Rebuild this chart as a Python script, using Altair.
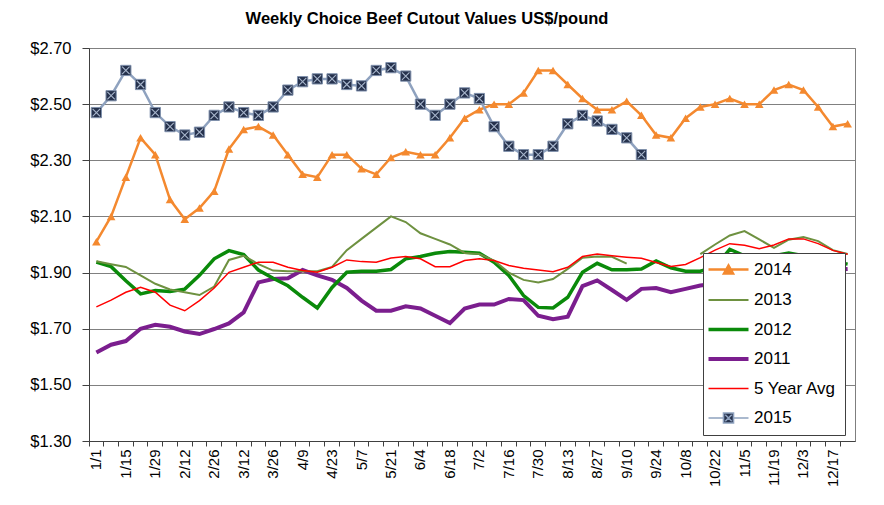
import altair as alt
import pandas as pd

weeks = ["1/1","1/8","1/15","1/22","1/29","2/5","2/12","2/19","2/26","3/5","3/12","3/19","3/26",
         "4/2","4/9","4/16","4/23","4/30","5/7","5/14","5/21","5/28","6/4","6/11","6/18","6/25",
         "7/2","7/9","7/16","7/23","7/30","8/6","8/13","8/20","8/27","9/3","9/10","9/17","9/24",
         "10/1","10/8","10/15","10/22","10/29","11/5","11/12","11/19","11/26","12/3","12/10","12/17","12/24"]
label_weeks = weeks[::2]

s2014 = [2.01,2.10,2.24,2.38,2.32,2.16,2.09,2.13,2.19,2.34,
         2.41,2.42,2.39,2.32,2.25,2.24,2.32,2.32,2.27,2.25,
         2.31,2.33,2.32,2.32,2.38,2.45,2.48,2.50,2.50,2.54,
         2.62,2.62,2.57,2.52,2.48,2.48,2.51,2.46,2.39,2.38,
         2.45,2.49,2.50,2.52,2.50,2.50,2.55,2.57,2.55,2.49,
         2.42,2.43]
s2013 = [1.94,1.93,1.92,1.89,1.86,1.84,1.83,1.82,1.85,1.945,
         1.96,1.93,1.907,1.905,1.905,1.905,1.92,1.98,2.02,2.06,
         2.10,2.08,2.04,2.02,2.00,1.97,1.966,1.943,1.90,1.874,
         1.865,1.877,1.913,1.953,1.957,1.956,1.932,None,None,None,
         None,1.966,2.00,2.032,2.048,2.018,1.988,2.017,2.027,2.012,
         1.98,1.966]
s2012 = [1.937,1.921,1.871,1.824,1.836,1.833,1.841,1.89,1.949,1.978,
         1.964,1.909,1.88,1.853,1.812,1.774,1.847,1.901,1.905,1.905,
         1.911,1.949,1.957,1.969,1.975,1.972,1.969,1.937,1.89,1.818,
         1.776,1.774,1.812,1.901,1.933,1.91,1.91,1.913,1.941,1.917,
         1.905,1.905,1.92,1.983,1.96,1.95,1.96,1.97,1.96,1.95,
         1.94,1.93]
s2011 = [1.615,1.643,1.656,1.70,1.714,1.707,1.69,1.681,1.699,1.719,
         1.758,1.865,1.877,1.88,1.909,1.89,1.874,1.845,1.80,1.764,
         1.764,1.78,1.772,1.746,1.72,1.772,1.786,1.786,1.806,1.802,
         1.746,1.734,1.743,1.852,1.872,1.838,1.803,1.842,1.845,1.83,
         1.842,1.854,1.86,1.87,1.88,1.89,1.90,1.90,1.91,1.91,
         1.91,1.913]
s5yr = [1.778,1.802,1.83,1.848,1.83,1.784,1.764,1.80,1.845,1.901,
        1.919,1.937,1.937,1.919,1.907,1.901,1.919,1.945,1.939,1.937,
        1.952,1.957,1.949,1.921,1.921,1.943,1.949,1.943,1.925,1.915,
        1.909,1.903,1.919,1.957,1.966,1.96,1.955,1.951,1.936,1.922,
        1.929,1.953,1.98,2.003,1.997,1.985,1.998,2.02,2.02,2.003,
        1.979,1.965]
s2015 = [2.47,2.53,2.62,2.57,2.47,2.42,2.39,2.40,2.46,2.49,
         2.47,2.46,2.49,2.55,2.58,2.59,2.59,2.57,2.565,2.62,
         2.63,2.60,2.50,2.46,2.50,2.54,2.52,2.42,2.35,2.32,
         2.32,2.35,2.43,2.46,2.44,2.41,2.38,2.32]

series_order = ["2014", "2013", "2012", "2011", "5 Year Avg", "2015"]
line_colors = ["#F4892F", "#6E9140", "#0A8A0A", "#7B1E8E", "#FF0000", "#8FA2BF"]
line_widths = [2.5, 2, 3.5, 4, 1.5, 2.5]
legend_widths = [2.5, 2, 3.5, 4, 1.5, 1.6]
draw_order = ["2011", "2012", "2013", "5 Year Avg", "2014", "2015"]
marker_navy = "#26324D"
y_ticks = [1.3, 1.5, 1.7, 1.9, 2.1, 2.3, 2.5, 2.7]

values = {"2014": s2014, "2013": s2013, "2012": s2012, "2011": s2011,
          "5 Year Avg": s5yr, "2015": s2015}
rows = []
for name in draw_order:
    for i, v in enumerate(values[name]):
        rows.append({"week": weeks[i], "idx": i, "series": name, "value": v})
df = pd.DataFrame(rows)

FONT = "Liberation Sans"
color_of = dict(zip(series_order, line_colors))
width_of = dict(zip(series_order, line_widths))

line_path = "M-4,0H4"
tri_path = "M-4,0H4M-0.9,0.8L0,-0.8L0.9,0.8Z"
sq_path = "M-4,0H-1M1,0H4M-1,-1H1V1H-1ZM-0.65,-0.65L0.65,0.65M-0.65,0.65L0.65,-0.65"
legend_shapes = [tri_path, line_path, line_path, line_path, line_path, sq_path]
legend_fills = [color_of["2014"], "transparent", "transparent", "transparent", "transparent", marker_navy]

legend = alt.Legend(
    title=None, orient="none", legendX=614, legendY=205,
    fillColor="white", strokeColor="#404040", padding=8, rowPadding=11.5,
    labelFontSize=17, labelFont=FONT, labelColor="black",
    symbolSize=100, symbolOffset=9, labelOffset=17, symbolOpacity=1,
)

xscale = alt.Scale(type="band", paddingInner=0, paddingOuter=0)
yscale = alt.Scale(domain=[1.3, 2.7], nice=False, zero=False)
stroke_scale = alt.Scale(domain=series_order, range=line_colors)

label_axis = alt.Axis(values=label_weeks, ticks=False, labelAngle=-90, bandPosition=0.5,
                      orient="bottom",
                      labelFontSize=15, labelFont=FONT, labelColor="black", labelPadding=8,
                      domainColor="#404040", grid=False, title=None)
tick_axis = alt.Axis(values=weeks, bandPosition=0, labels=False, ticks=True, tickSize=5,
                     orient="bottom",
                     tickColor="#404040", domain=False, grid=False, title=None)
y_axis = alt.Axis(values=y_ticks, format="$.2f", labelFontSize=16.5, labelFont=FONT,
                  labelColor="black", grid=True, gridColor="#808080", gridWidth=1,
                  tickSize=7, tickColor="#404040", labelPadding=11,
                  domainColor="#404040", title=None)

base = alt.Chart(df)

def xenc(axis):
    return alt.X("week:N", sort=weeks, scale=xscale, bandPosition=0.5, axis=axis)

def yenc():
    return alt.Y("value:Q", scale=yscale, axis=y_axis)

layers = []
first = True
for name in draw_order:
    layers.append(
        base.transform_filter(alt.datum.series == name)
        .mark_line(strokeWidth=width_of[name])
        .encode(
            x=xenc(label_axis if first else None),
            y=yenc(),
            stroke=alt.Stroke("series:N", scale=stroke_scale, legend=legend),
            order=alt.Order("idx:Q"),
        )
    )
    first = False

tri = base.transform_filter(alt.datum.series == "2014").mark_point(
    shape="triangle-up", filled=True, size=75, color=color_of["2014"], opacity=1
).encode(x=xenc(tick_axis), y=yenc())

sq = base.transform_filter(alt.datum.series == "2015").mark_point(
    shape="square", filled=True, size=105, fill=marker_navy, stroke="#7F90AC",
    strokeWidth=1, opacity=1
).encode(x=xenc(None), y=yenc())

xs = base.transform_filter(alt.datum.series == "2015").mark_point(
    shape="M-0.75,-0.75L0.75,0.75M-0.75,0.75L0.75,-0.75", filled=False, size=100,
    stroke="#A8B6CC", strokeWidth=1.1, opacity=1
).encode(x=xenc(None), y=yenc())

# legend-only layer (no rows drawn) carrying the combined legend symbols
leg = base.transform_filter("false").mark_point(filled=True, opacity=1).encode(
    x=xenc(None), y=yenc(),
    stroke=alt.Stroke("series:N", scale=stroke_scale, legend=legend),
    fill=alt.Fill("series:N", scale=alt.Scale(domain=series_order, range=legend_fills), legend=legend),
    shape=alt.Shape("series:N", scale=alt.Scale(domain=series_order, range=legend_shapes), legend=legend),
    strokeWidth=alt.StrokeWidth("series:N", scale=alt.Scale(type="ordinal", domain=series_order, range=legend_widths), legend=legend),
)

chart = alt.layer(*layers, tri, sq, xs, leg).resolve_axis(x="independent").properties(
    width=766, height=393,
    padding={"left": 81, "top": 40, "right": 20, "bottom": 60},
    autosize=alt.AutoSizeParams(type="none"),
    title=alt.Title("Weekly Choice Beef Cutout Values US$/pound", fontSize=16.5, font=FONT,
                    fontWeight="bold", anchor="middle", dx=-45, offset=13, color="black"),
).configure_view(stroke="#7F7F7F", strokeWidth=1)

chart.save("out.html", embed_options={"renderer": "svg", "actions": False})
